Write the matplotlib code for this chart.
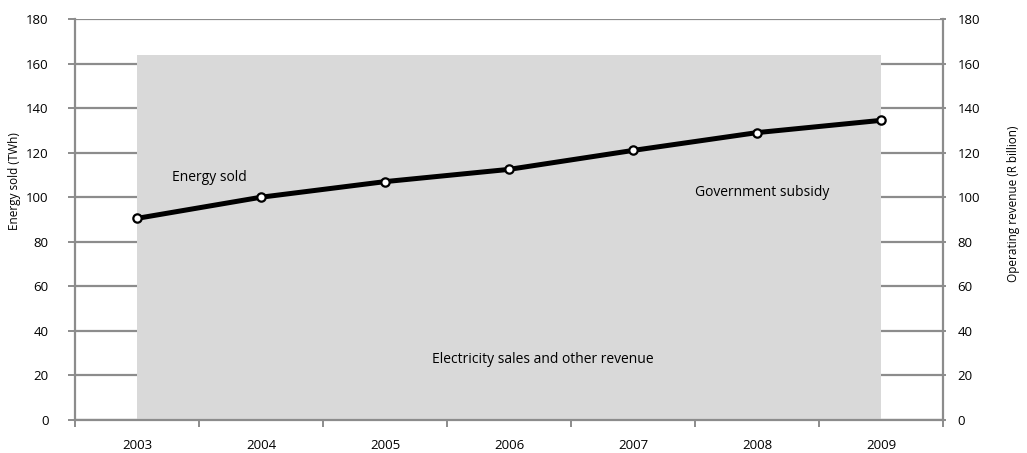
import numpy as np
import matplotlib
matplotlib.use("Agg")
import matplotlib.pyplot as plt

plt.rcParams["font.family"] = ["Open Sans", "DejaVu Sans"]

YEARS = ["2003", "2004", "2005", "2006", "2007", "2008", "2009"]
ENERGY_SOLD = [90.5, 100.0, 107.0, 112.5, 121.0, 129.0, 134.5]
REVENUE_BAND = [164, 164, 164, 164, 164, 164, 164]

GRID = "#8c8c8c"
x = np.arange(len(YEARS))

fig = plt.figure(figsize=(10.27, 4.53), dpi=100)
ax = fig.add_axes([75 / 1027, 1 - 420 / 453, (943 - 75) / 1027, (420 - 19) / 453])

ax.set_xlim(-0.5, len(YEARS) - 0.5)
ax.set_ylim(0, 180)
ax.set_yticks(np.arange(0, 181, 20))
ax.yaxis.grid(True, color=GRID, lw=1.6, zorder=0)
ax.set_axisbelow(True)

# revenue band drawn over the grid, energy line on top
ax.fill_between(x, 0, REVENUE_BAND, color="#d9d9d9", lw=0, zorder=1)
ax.plot(x, ENERGY_SOLD, color="black", lw=3.6, marker="o", ms=6,
        mfc="white", mec="black", mew=1.6, zorder=3)

ax.text(0.58, 109, "Energy sold", fontsize=10, ha="center", va="center")
ax.text(5.04, 102, "Government subsidy", fontsize=10, ha="center", va="center")
ax.text(3.27, 27, "Electricity sales and other revenue", fontsize=10,
        ha="center", va="center")

ax.set_xticks(x)
ax.set_xticklabels(YEARS, fontsize=9.5)
ax.set_xticks(np.arange(-0.5, len(YEARS)), minor=True)
ax.tick_params(axis="x", which="major", length=0, pad=14)
ax.tick_params(axis="x", which="minor", length=5, width=1.4, color=GRID,
               direction="out")
ax.tick_params(axis="y", length=5, width=1.4, color=GRID, labelsize=9.5, pad=14)

for side in ("left", "bottom"):
    ax.spines[side].set_color(GRID)
    ax.spines[side].set_linewidth(1.6)
for side in ("top", "right"):
    ax.spines[side].set_visible(False)

ax2 = ax.twinx()
ax2.set_ylim(0, 180)
ax2.set_yticks(np.arange(0, 181, 20))
ax2.tick_params(axis="y", length=5, width=1.4, color=GRID, labelsize=9.5,
                pad=8, direction="inout")
for side in ("left", "bottom", "top"):
    ax2.spines[side].set_visible(False)
ax2.spines["right"].set_color(GRID)
ax2.spines["right"].set_linewidth(1.6)

fig.text(15 / 1027, 0.6, "Energy sold (TWh)", rotation=90, fontsize=8.5,
         ha="center", va="center")
fig.text(1013 / 1027, 0.55, "Operating revenue (R billion)", rotation=90,
         fontsize=8.5, ha="center", va="center")

fig.savefig("out.png", dpi=100)
